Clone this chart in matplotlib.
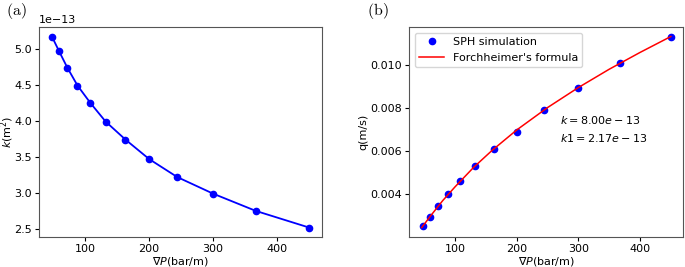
import matplotlib
matplotlib.use("Agg")
import matplotlib.pyplot as plt

plt.rcParams['mathtext.fontset'] = 'dejavusans'
plt.rcParams['font.size'] = 8

# pressure gradient (bar/m)
grad_p = [48, 59, 72, 88, 108, 132, 163, 200, 244, 300, 367, 450]
# permeability k (units of 1e-13 m^2)
k_vals = [5.17, 4.97, 4.74, 4.49, 4.25, 3.99, 3.74, 3.47, 3.22, 2.99, 2.75, 2.52]
# SPH flux q (m/s)
q_sph = [0.00252, 0.00296, 0.00345, 0.00400, 0.00461, 0.00530,
         0.00608, 0.00690, 0.00790, 0.00893, 0.01007, 0.01130]
# Forchheimer curve
grad_fit = [46, 60, 80, 100, 130, 160, 200, 250, 300, 350, 400, 450]
q_fit = [0.00245, 0.00298, 0.00370, 0.00434, 0.00524, 0.00603,
         0.00698, 0.00802, 0.00895, 0.00980, 0.01058, 0.01132]

fig = plt.figure(figsize=(6.85, 2.67), dpi=100)
ax1 = fig.add_axes([0.057, 0.112, 0.413, 0.787])
ax2 = fig.add_axes([0.5975, 0.112, 0.400, 0.787])

ax1.plot(grad_p, [v * 1e-13 for v in k_vals], 'o-', color='blue', markersize=4.5, linewidth=1.3)
ax1.set_xlabel(r'$\nabla P$(bar/m)', labelpad=1)
ax1.set_ylabel(r'$k$(m$^2$)')
ax1.yaxis.set_label_coords(-0.081, 0.5)
ax1.set_xticks([100, 200, 300, 400])

ax2.plot(grad_p, q_sph, 'o', color='blue', markersize=4.5, label='SPH simulation')
ax2.plot(grad_fit, q_fit, '-', color='red', linewidth=1.1, label="Forchheimer's formula")
ax2.set_xlabel(r'$\nabla P$(bar/m)', labelpad=1)
ax2.set_ylabel('q(m/s)')
ax2.yaxis.set_label_coords(-0.148, 0.5)
ax2.set_xticks([100, 200, 300, 400])
ax2.set_yticks([0.004, 0.006, 0.008, 0.010])
ax2.legend(loc='upper left', fontsize=8, handlelength=2.2)
ax2.text(271, 0.00726, r'$k = 8.00e-13$', fontsize=8)
ax2.text(271, 0.00642, r'$k1 = 2.17e-13$', fontsize=8)

for ax in (ax1, ax2):
    ax.tick_params(labelsize=8, length=3, pad=2)
    for s in ax.spines.values():
        s.set_color('#555555')

fig.text(0.009, 0.995, r'$\mathrm{(a)}$', fontsize=11.5, va='top', math_fontfamily='cm')
fig.text(0.536, 0.995, r'$\mathrm{(b)}$', fontsize=11.5, va='top', math_fontfamily='cm')

fig.savefig('out.png', dpi=100)
